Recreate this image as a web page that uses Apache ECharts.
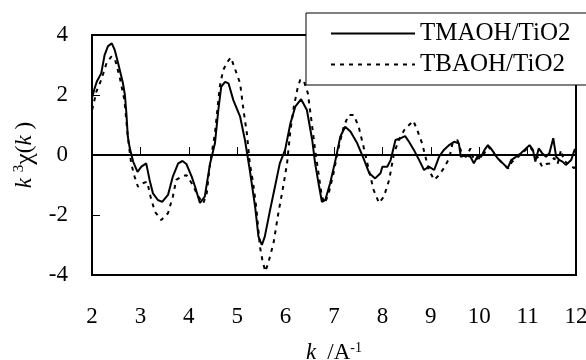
<!DOCTYPE html>
<html>
<head>
<meta charset="utf-8">
<script src="https://cdn.jsdelivr.net/npm/echarts@6/dist/echarts.min.js"></script>
<style>
  html, body { margin: 0; padding: 0; background: #fff; }
  #chart { width: 586px; height: 360px; }
</style>
</head>
<body>
<div id="chart"></div>
<script>
// k (1/A) and k^3 chi(k)
const kTMAOH = [2.0, 2.05, 2.1, 2.19, 2.26, 2.33, 2.41, 2.47, 2.54, 2.64, 2.68, 2.71, 2.74, 2.78, 2.85, 2.94, 3.02, 3.12, 3.19, 3.26, 3.36, 3.45, 3.57, 3.67, 3.78, 3.87, 3.95, 4.06, 4.13, 4.23, 4.33, 4.44, 4.54, 4.61, 4.67, 4.75, 4.82, 4.92, 5.06, 5.16, 5.26, 5.37, 5.44, 5.51, 5.57, 5.68, 5.78, 5.88, 5.99, 6.1, 6.2, 6.32, 6.44, 6.55, 6.61, 6.68, 6.75, 6.82, 6.92, 7.03, 7.13, 7.23, 7.34, 7.48, 7.61, 7.73, 7.85, 7.96, 8.0, 8.1, 8.17, 8.27, 8.38, 8.47, 8.55, 8.65, 8.76, 8.86, 8.96, 9.07, 9.17, 9.27, 9.38, 9.48, 9.58, 9.62, 9.72, 9.82, 9.89, 9.96, 10.04, 10.11, 10.18, 10.24, 10.31, 10.38, 10.49, 10.59, 10.66, 10.76, 10.86, 10.95, 11.04, 11.11, 11.16, 11.23, 11.3, 11.38, 11.45, 11.53, 11.59, 11.66, 11.72, 11.79, 11.9, 11.97, 12.0]
const chiTMAOH = [1.9, 2.2, 2.45, 2.72, 3.33, 3.63, 3.72, 3.5, 3.06, 2.39, 2.0, 1.4, 0.61, 0.23, -0.22, -0.56, -0.39, -0.28, -0.83, -1.28, -1.5, -1.56, -1.33, -0.72, -0.28, -0.2, -0.3, -0.72, -1.06, -1.6, -1.39, -0.28, 0.39, 1.5, 2.28, 2.44, 2.39, 1.83, 1.28, 0.5, -0.5, -1.72, -2.72, -3.0, -2.72, -1.83, -1.06, -0.28, 0.17, 1.06, 1.61, 1.86, 1.5, 0.5, -0.28, -0.94, -1.56, -1.5, -0.94, -0.17, 0.61, 0.94, 0.78, 0.39, -0.11, -0.61, -0.78, -0.61, -0.39, -0.39, -0.17, 0.5, 0.56, 0.63, 0.44, 0.17, -0.17, -0.5, -0.39, -0.5, -0.06, 0.17, 0.33, 0.44, 0.39, -0.06, 0.0, -0.06, -0.28, -0.06, -0.06, 0.17, 0.33, 0.22, 0.06, -0.11, -0.28, -0.44, -0.17, -0.06, 0.06, 0.19, 0.33, 0.17, -0.22, 0.22, 0.06, -0.06, 0.06, 0.56, -0.06, -0.17, -0.22, -0.33, -0.17, 0.17, 0.2]

const kTBAOH = [2.0, 2.02, 2.09, 2.19, 2.3, 2.4, 2.47, 2.57, 2.67, 2.74, 2.81, 2.88, 2.95, 3.05, 3.14, 3.21, 3.3, 3.43, 3.57, 3.67, 3.74, 3.85, 3.95, 4.06, 4.2, 4.3, 4.37, 4.44, 4.54, 4.64, 4.71, 4.8, 4.87, 4.95, 5.06, 5.13, 5.2, 5.26, 5.33, 5.4, 5.47, 5.52, 5.58, 5.64, 5.75, 5.85, 5.95, 6.03, 6.1, 6.17, 6.24, 6.3, 6.37, 6.46, 6.55, 6.61, 6.68, 6.75, 6.81, 6.89, 6.99, 7.1, 7.2, 7.3, 7.41, 7.51, 7.61, 7.72, 7.82, 7.93, 8.03, 8.14, 8.24, 8.34, 8.45, 8.55, 8.64, 8.72, 8.82, 8.89, 8.96, 9.07, 9.17, 9.27, 9.38, 9.45, 9.55, 9.65, 9.73, 9.82, 9.89, 9.98, 10.05, 10.12, 10.19, 10.3, 10.4, 10.5, 10.6, 10.68, 10.78, 10.88, 10.98, 11.05, 11.12, 11.2, 11.3, 11.38, 11.46, 11.55, 11.62, 11.69, 11.75, 11.85, 11.96, 12.0]
const chiTBAOH = [1.5, 1.61, 2.11, 2.5, 3.06, 3.28, 3.22, 2.61, 1.83, 0.61, -0.28, -0.72, -1.06, -0.94, -0.89, -1.39, -1.89, -2.17, -1.94, -1.39, -0.83, -0.72, -0.67, -0.94, -1.39, -1.61, -1.28, -0.28, 0.72, 2.28, 2.83, 3.11, 3.25, 2.89, 2.39, 1.5, 0.72, -0.28, -0.94, -1.83, -3.06, -3.5, -3.88, -3.61, -2.94, -1.94, -1.06, -0.28, 0.83, 1.61, 2.17, 2.5, 2.5, 2.06, 0.94, 0.17, -0.61, -1.39, -1.61, -1.28, -0.61, 0.28, 0.94, 1.33, 1.33, 0.94, 0.28, -0.5, -1.17, -1.6, -1.39, -0.83, 0.06, 0.5, 0.83, 1.0, 1.14, 0.83, 0.39, -0.06, -0.5, -0.83, -0.67, -0.44, -0.11, 0.39, 0.5, 0.0, -0.06, 0.22, -0.17, -0.11, -0.1, 0.1, 0.28, 0.05, -0.15, -0.3, -0.45, -0.22, -0.1, 0.05, 0.2, 0.28, 0.1, -0.05, -0.39, -0.3, -0.28, -0.1, -0.3, 0.17, -0.2, -0.3, -0.44, -0.35]

const seriesNames = ['TMAOH/TiO2', 'TBAOH/TiO2']

const font = "'Liberation Serif', 'Times New Roman', serif"
const zip = (xs, ys) => xs.map((x, i) => [x, ys[i]])

const chart = echarts.init(document.getElementById('chart'))
chart.setOption({
  animation: false,
  backgroundColor: '#fff',
  grid: {
    left: 92,
    right: 10,
    top: 35,
    bottom: 85,
    outerBoundsMode: 'none',
    show: true,
    borderColor: '#000',
    borderWidth: 2
  },
  legend: {
    orient: 'vertical',
    left: 306,
    top: 13,
    padding: [8, 60, 8, 24],
    itemGap: 6,
    itemWidth: 84,
    itemHeight: 14,
    backgroundColor: '#fff',
    borderColor: '#000',
    borderWidth: 1,
    borderRadius: 0,
    itemStyle: { color: 'rgba(0,0,0,0)', borderWidth: 0 },
    textStyle: { fontFamily: font, fontSize: 25, lineHeight: 24, color: '#000' },
    data: seriesNames
  },
  xAxis: {
    type: 'value',
    min: 2,
    max: 12,
    interval: 1,
    name: '{i|k}  {n|/A}{s|-1}',
    nameLocation: 'middle',
    nameGap: 66,
    nameTextStyle: {
      fontFamily: font,
      fontSize: 22,
      color: '#000',
      rich: {
        i: { fontFamily: font, fontSize: 23, fontStyle: 'italic', color: '#000' },
        n: { fontFamily: font, fontSize: 23, color: '#000' },
        s: { fontFamily: font, fontSize: 14, color: '#000', verticalAlign: 'top' }
      }
    },
    axisLine: { lineStyle: { color: '#000', width: 2 } },
    axisTick: { inside: true, length: 8, lineStyle: { color: '#000', width: 1 } },
    axisLabel: { margin: 30, fontFamily: font, fontSize: 23, color: '#000' },
    splitLine: { show: false }
  },
  yAxis: {
    type: 'value',
    min: -4,
    max: 4,
    interval: 2,
    name: '{i|k} {s|3}{c|χ}{n|(}{i|k}{n| )}',
    nameLocation: 'middle',
    nameGap: 42,
    nameTextStyle: {
      fontFamily: font,
      fontSize: 23,
      color: '#000',
      rich: {
        i: { fontFamily: font, fontSize: 23, fontStyle: 'italic', color: '#000' },
        n: { fontFamily: font, fontSize: 23, color: '#000' },
        c: { fontFamily: font, fontSize: 26, color: '#000' },
        s: { fontFamily: font, fontSize: 15, color: '#000', verticalAlign: 'top' }
      }
    },
    axisLine: { lineStyle: { color: '#000', width: 2 } },
    axisTick: { inside: true, length: 8, lineStyle: { color: '#000', width: 1 } },
    axisLabel: { margin: 24, fontFamily: font, fontSize: 23, color: '#000' },
    splitLine: { show: false }
  },
  series: [
    {
      name: seriesNames[0],
      type: 'line',
      symbol: 'none',
      data: zip(kTMAOH, chiTMAOH),
      lineStyle: { color: '#000', width: 2 }
    },
    {
      name: seriesNames[1],
      type: 'line',
      symbol: 'none',
      data: zip(kTBAOH, chiTBAOH),
      lineStyle: { color: '#000', width: 2, type: [4, 5] }
    }
  ]
})
</script>
</body>
</html>
